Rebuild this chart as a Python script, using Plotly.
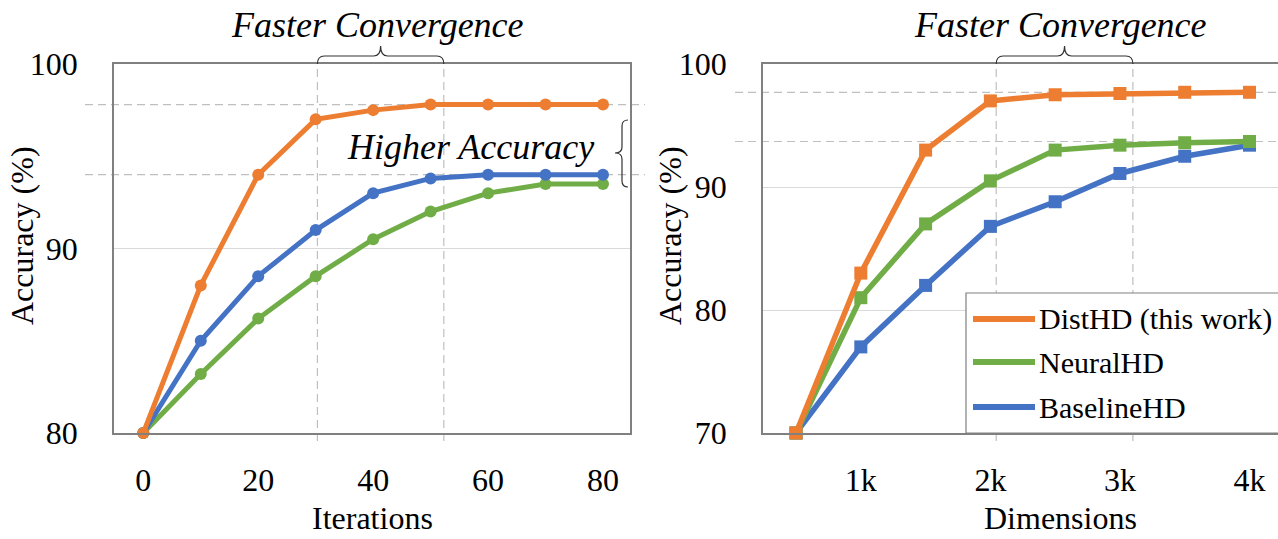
import plotly.graph_objects as go

W, H = 1278, 539

# ---- data -------------------------------------------------------------
iterations = [0, 10, 20, 30, 40, 50, 60, 70, 80]
iter_disthd = [80, 88, 94, 97, 97.5, 97.8, 97.8, 97.8, 97.8]
iter_neuralhd = [80, 83.2, 86.2, 88.5, 90.5, 92, 93, 93.5, 93.5]
iter_baselinehd = [80, 85, 88.5, 91, 93, 93.8, 94, 94, 94]

dimensions = [500, 1000, 1500, 2000, 2500, 3000, 3500, 4000]
dim_disthd = [70, 83, 93, 97, 97.5, 97.6, 97.7, 97.7]
dim_neuralhd = [70, 81, 87, 90.5, 93, 93.4, 93.6, 93.7]
dim_baselinehd = [70, 77, 82, 86.8, 88.8, 91.1, 92.5, 93.4]

iter_ticks = [0, 20, 40, 60, 80]
dim_ticks = [1000, 2000, 3000, 4000]
dim_tick_labels = ["1k", "2k", "3k", "4k"]
left_y_ticks = [80, 90, 100]
right_y_ticks = [70, 80, 90, 100]

series_names = ["DistHD (this work)", "NeuralHD", "BaselineHD"]
series_colors = ["#ED7D31", "#70AD47", "#4472C4"]

# iteration / dimension windows highlighted as "Faster Convergence"
converge_iter = (30.3, 52.3)
converge_dim = (2045, 3100)

# ---- geometry helpers ---------------------------------------------------
FONT = "Liberation Serif"
FRAME = "#808080"
GUIDE = "#BFBFBF"


def px_x(p):
    return p / W


def px_y(p):
    return 1 - p / H


y_dom = [px_y(433), px_y(64)]
left_dom = [px_x(114), px_x(630)]
right_dom = [px_x(763), 1.0]
left_xr = [-5.1, 84.7]
right_xr = [245, 4220]
left_yr = [80, 100]
right_yr = [70, 100]


def to_paper(v, dom, rng):
    return dom[0] + (v - rng[0]) / (rng[1] - rng[0]) * (dom[1] - dom[0])


# ---- traces -------------------------------------------------------------
fig = go.Figure()

left_series = {
    "NeuralHD": iter_neuralhd,
    "BaselineHD": iter_baselinehd,
    "DistHD (this work)": iter_disthd,
}
right_series = {
    "BaselineHD": dim_baselinehd,
    "NeuralHD": dim_neuralhd,
    "DistHD (this work)": dim_disthd,
}
color_of = dict(zip(series_names, series_colors))

for name, ys in left_series.items():
    fig.add_trace(go.Scatter(
        x=iterations, y=ys, name=name, mode="lines+markers",
        line=dict(color=color_of[name], width=5),
        marker=dict(symbol="circle", size=12, color=color_of[name]),
        cliponaxis=False, showlegend=False, xaxis="x", yaxis="y"))

for name, ys in right_series.items():
    fig.add_trace(go.Scatter(
        x=dimensions, y=ys, name=name, mode="lines+markers",
        line=dict(color=color_of[name], width=5.5),
        marker=dict(symbol="square", size=13, color=color_of[name]),
        cliponaxis=False, showlegend=False, xaxis="x2", yaxis="y2"))

# ---- decorations --------------------------------------------------------
shapes = []
annotations = []


def hline(yv, dom, rng, x0, x1):
    yp = to_paper(yv, y_dom, rng)
    shapes.append(dict(type="line", xref="paper", yref="paper",
                       x0=x0, x1=x1, y0=yp, y1=yp, layer="below",
                       line=dict(color=GUIDE, width=1.2, dash="8px,5px")))


def vline(xv, dom, rng):
    xp = to_paper(xv, dom, rng)
    shapes.append(dict(type="line", xref="paper", yref="paper",
                       x0=xp, x1=xp, y0=px_y(441), y1=px_y(62), layer="below",
                       line=dict(color=GUIDE, width=1.2, dash="8px,5px")))


def h_brace(xv0, xv1, dom, rng):
    x1 = to_paper(xv0, dom, rng)
    x2 = to_paper(xv1, dom, rng)
    xm = (x1 + x2) / 2
    r = px_x(7)
    ye, yb, yt = px_y(64), px_y(56), px_y(46)
    path = (f"M{x1},{ye} Q{x1},{yb} {x1 + r},{yb} L{xm - r},{yb} "
            f"Q{xm},{yb} {xm},{yt} Q{xm},{yb} {xm + r},{yb} "
            f"L{x2 - r},{yb} Q{x2},{yb} {x2},{ye}")
    shapes.append(dict(type="path", xref="paper", yref="paper", path=path,
                       line=dict(color="#333333", width=1.2)))


def v_brace(x_end, x_bar, x_nub, y_top, y_mid, y_bot):
    xe, xb, xn = px_x(x_end), px_x(x_bar), px_x(x_nub)
    yt, ym, yb = px_y(y_top), px_y(y_mid), px_y(y_bot)
    r = 6 / H
    path = (f"M{xe},{yt} Q{xb},{yt} {xb},{yt - r} L{xb},{ym + r} "
            f"Q{xb},{ym} {xn},{ym} Q{xb},{ym} {xb},{ym - r} "
            f"L{xb},{yb + r} Q{xb},{yb} {xe},{yb}")
    shapes.append(dict(type="path", xref="paper", yref="paper", path=path,
                       line=dict(color="#333333", width=1.2)))


# accuracy reference lines
hline(max(iter_disthd), left_dom, left_yr, px_x(85), px_x(645))
hline(max(iter_baselinehd), left_dom, left_yr, px_x(85), px_x(645))
hline(max(dim_disthd), right_dom, right_yr, px_x(735), 1.0)
hline(max(dim_neuralhd), right_dom, right_yr, px_x(735), 1.0)

# convergence windows
for v in converge_iter:
    vline(v, left_dom, left_xr)
for v in converge_dim:
    vline(v, right_dom, right_xr)
h_brace(*converge_iter, left_dom, left_xr)
h_brace(*converge_dim, right_dom, right_xr)
v_brace(628, 622, 615, 120, 153, 187)

italic = dict(family=FONT, size=36, color="black", style="italic")
annotations.append(dict(text="Faster Convergence", x=px_x(377), y=px_y(25),
                        xref="paper", yref="paper", showarrow=False,
                        xanchor="center", yanchor="middle", font=italic))
annotations.append(dict(text="Faster Convergence", x=px_x(1060), y=px_y(25),
                        xref="paper", yref="paper", showarrow=False,
                        xanchor="center", yanchor="middle", font=italic))
annotations.append(dict(text="Higher Accuracy", x=px_x(470), y=px_y(147),
                        xref="paper", yref="paper", showarrow=False,
                        xanchor="center", yanchor="middle", font=italic))

title_font = dict(family=FONT, size=32, color="black")
for txt, xc in (("Iterations", 372), ("Dimensions", 1060)):
    annotations.append(dict(text=txt, x=px_x(xc), y=px_y(538), xref="paper",
                            yref="paper", showarrow=False, xanchor="center",
                            yanchor="bottom", font=title_font))
for xc in (22, 670):
    annotations.append(dict(text="Accuracy (%)", x=px_x(xc), y=px_y(236),
                            xref="paper", yref="paper", showarrow=False,
                            textangle=-90, xanchor="center", yanchor="middle",
                            font=title_font))

# legend box for the dimension panel
shapes.append(dict(type="rect", xref="paper", yref="paper",
                   x0=px_x(966), x1=px_x(1300), y0=px_y(433), y1=px_y(293),
                   fillcolor="white", line=dict(color=FRAME, width=1.2),
                   layer="above"))
for i, (name, color) in enumerate(zip(series_names, series_colors)):
    yc = px_y([319, 362, 407][i])
    shapes.append(dict(type="line", xref="paper", yref="paper",
                       x0=px_x(973), x1=px_x(1035), y0=yc, y1=yc,
                       line=dict(color=color, width=6), layer="above"))
    annotations.append(dict(text=name, x=px_x(1037), y=yc, xref="paper",
                            yref="paper", showarrow=False, xanchor="left",
                            yanchor="middle",
                            font=dict(family=FONT, size=30, color="black")))

# ---- axes ---------------------------------------------------------------
tick_font = dict(family=FONT, size=32, color="black")
common_x = dict(showgrid=False, zeroline=False, showline=True, linecolor=FRAME,
                linewidth=1.5, ticks="", tickfont=tick_font,
                ticklabelstandoff=18)
common_y = dict(showgrid=True, gridcolor="#D9D9D9", gridwidth=1,
                zeroline=False, showline=True, linecolor=FRAME, linewidth=1.5,
                ticks="", tickfont=tick_font, ticklabelstandoff=28,
                domain=y_dom)

fig.update_layout(
    width=W, height=H,
    margin=dict(l=0, r=0, t=0, b=0, autoexpand=False),
    paper_bgcolor="white", plot_bgcolor="white",
    showlegend=False,
    xaxis=dict(common_x, domain=left_dom, range=left_xr, tickvals=iter_ticks,
               mirror=True, anchor="y"),
    yaxis=dict(common_y, range=left_yr, tickvals=left_y_ticks, mirror=True,
               anchor="x"),
    xaxis2=dict(common_x, domain=right_dom, range=right_xr, tickvals=dim_ticks,
                ticktext=dim_tick_labels, mirror=True, anchor="y2"),
    yaxis2=dict(common_y, range=right_yr, tickvals=right_y_ticks, anchor="x2"),
    shapes=shapes,
    annotations=annotations,
)

fig.write_html("out.html")
